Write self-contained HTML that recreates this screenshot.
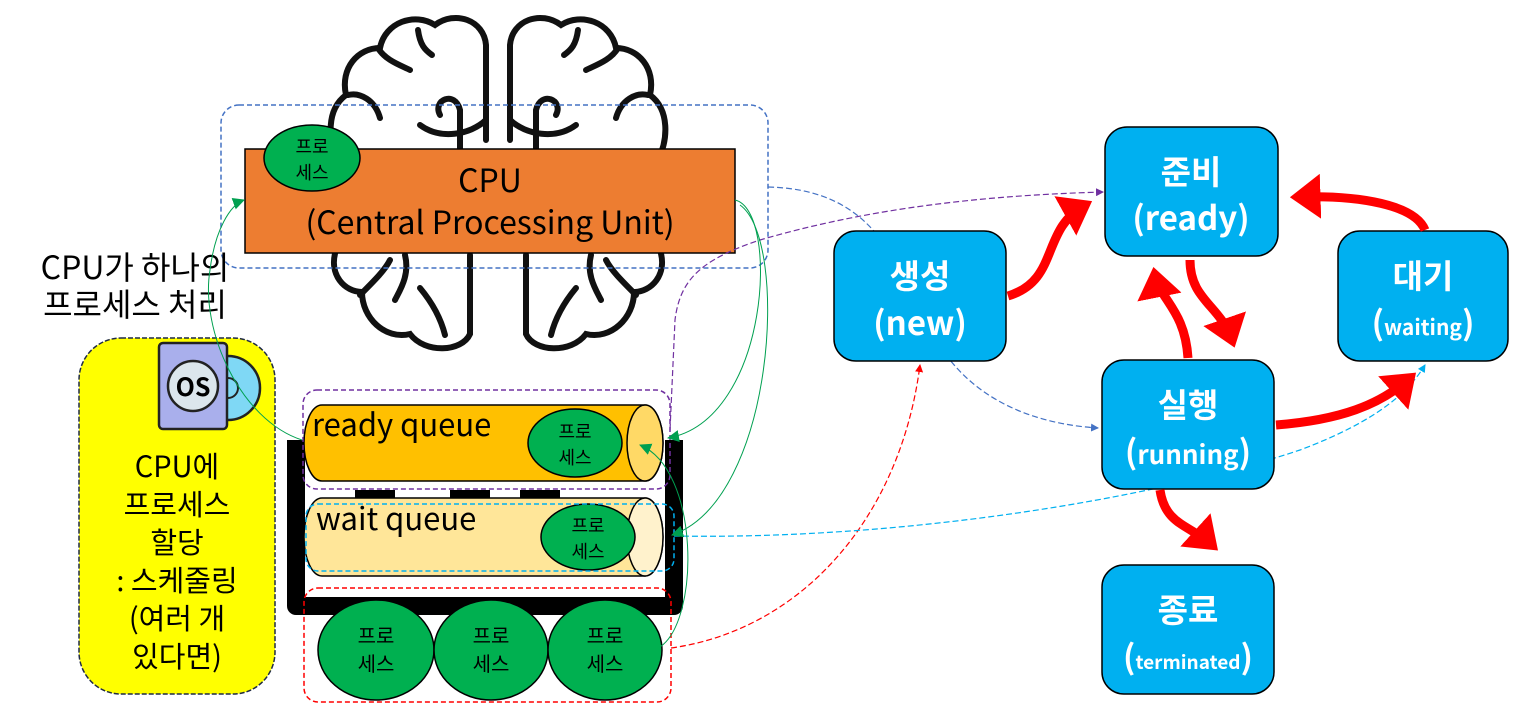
<!DOCTYPE html>
<html><head><meta charset="utf-8"><style>
body{margin:0;background:#fff;}
svg{display:block;}
text{font-family:"Noto Sans CJK KR","Liberation Sans",sans-serif;}
</style></head><body>
<svg width="1515" height="724" viewBox="0 0 1515 724" xmlns="http://www.w3.org/2000/svg">
<defs>
<marker id="ab" markerWidth="8" markerHeight="8" refX="7" refY="4" orient="auto" markerUnits="userSpaceOnUse"><path d="M0,0 L8,4 L0,8z" fill="#4472C4"/></marker>
<marker id="ap" markerWidth="8" markerHeight="8" refX="7" refY="4" orient="auto" markerUnits="userSpaceOnUse"><path d="M0,0 L8,4 L0,8z" fill="#7030A0"/></marker>
<marker id="ar" markerWidth="8" markerHeight="8" refX="7" refY="4" orient="auto" markerUnits="userSpaceOnUse"><path d="M0,0 L8,4 L0,8z" fill="#FF0000"/></marker>
<marker id="ac" markerWidth="8" markerHeight="8" refX="7" refY="4" orient="auto" markerUnits="userSpaceOnUse"><path d="M0,0 L8,4 L0,8z" fill="#00B0F0"/></marker>
<marker id="ag" markerWidth="12" markerHeight="12" refX="11" refY="6" orient="auto" markerUnits="userSpaceOnUse"><path d="M0,0 L12,6 L0,12z" fill="#00A050"/></marker>
<marker id="aR" markerWidth="5" markerHeight="5" refX="2.5" refY="2.5" orient="auto"><path d="M0,0 L3.4,2.5 L0,5z" fill="#FF0000"/></marker>
<g id="hemi" fill="none" stroke="#111" stroke-width="6" stroke-linecap="round">
<path d="M486,140 L486,45 C484,20 455,10 435,25 C415,12 385,22 380,48 C358,48 340,68 346,95 C326,110 328,140 338,160 L336,250 C328,275 345,292 362,292 C362,318 385,340 410,334 C425,354 462,352 470,334 L470,255"/>
<path d="M418,30 C420,45 425,50 432,55"/>
<path d="M378,48 C385,60 400,65 410,70"/>
<path d="M348,95 C360,92 375,100 380,118"/>
<path d="M440,115 C432,100 455,90 460,110 L460,150"/>
<path d="M420,125 C440,140 470,135 486,120"/>
<path d="M360,295 C375,280 385,270 390,260"/>
<path d="M420,288 C430,300 440,315 445,335"/>
<path d="M405,255 C410,275 400,290 395,300"/>
</g>
</defs>

<use href="#hemi"/>
<use href="#hemi" transform="translate(996,0) scale(-1,1)"/>

<rect x="221" y="105" width="547" height="163" rx="18" fill="none" stroke="#4472C4" stroke-width="1.5" stroke-dasharray="5,3"/>
<rect x="245" y="149" width="490" height="104" fill="#ED7D31" stroke="#000" stroke-width="1.5"/>
<text x="490" y="192" font-size="32" text-anchor="middle">CPU</text>
<text x="490" y="234" font-size="32" text-anchor="middle">(Central Processing Unit)</text>
<ellipse cx="312" cy="158" rx="48" ry="33" fill="#00B050" stroke="#000" stroke-width="1.5"/>
<text x="312" y="153" font-size="18" text-anchor="middle">프로</text>
<text x="312" y="179" font-size="18" text-anchor="middle">세스</text>

<text x="135" y="279" font-size="32" text-anchor="middle">CPU가 하나의</text>
<text x="135" y="316" font-size="32" text-anchor="middle">프로세스 처리</text>

<rect x="79" y="338" width="196" height="356" rx="42" fill="#FFFF00" stroke="#1F2A44" stroke-width="1.5" stroke-dasharray="5,2"/>
<circle cx="228" cy="388" r="32" fill="#7FD8F5" stroke="#222" stroke-width="2.5"/>
<circle cx="228" cy="388" r="10" fill="none" stroke="#222" stroke-width="2"/>
<rect x="159" y="343" width="68" height="86" rx="4" fill="#A9AFEC" stroke="#222" stroke-width="2.5"/>
<circle cx="193" cy="386" r="25" fill="#DCE6EC" stroke="#222" stroke-width="2.5"/>
<text x="193" y="396" font-size="25" font-weight="bold" text-anchor="middle">OS</text>
<g font-size="29" text-anchor="middle">
<text x="177" y="477">CPU에</text>
<text x="177" y="515">프로세스</text>
<text x="177" y="553">할당</text>
<text x="177" y="591">: 스케줄링</text>
<text x="177" y="629">(여러 개</text>
<text x="177" y="667">있다면)</text>
</g>

<path d="M296,440 L296,606 L674,606 L674,440" fill="none" stroke="#000" stroke-width="18" stroke-linejoin="round"/>
<rect x="355" y="490" width="40" height="12" fill="#000"/><rect x="450" y="490" width="40" height="12" fill="#000"/><rect x="520" y="490" width="40" height="12" fill="#000"/>

<path d="M322,405 L645,405 A18,38 0 0 1 645,481 L322,481 A18,38 0 0 1 322,405z" fill="#FFC000" stroke="#000" stroke-width="1.5"/>
<ellipse cx="645" cy="443" rx="18" ry="38" fill="#FFD966" stroke="#000" stroke-width="1.5"/>
<text x="312" y="436" font-size="31">ready queue</text>
<ellipse cx="575" cy="443" rx="47" ry="34" fill="#00B050" stroke="#000" stroke-width="1.5"/>
<text x="575" y="438" font-size="18" text-anchor="middle">프로</text>
<text x="575" y="464" font-size="18" text-anchor="middle">세스</text>
<rect x="303" y="390" width="367" height="99" rx="14" fill="none" stroke="#7030A0" stroke-width="1.5" stroke-dasharray="5,3"/>

<path d="M322,498 L645,498 A18,39 0 0 1 645,576 L322,576 A18,39 0 0 1 322,498z" fill="#FFE699" stroke="#000" stroke-width="1.5"/>
<ellipse cx="645" cy="537" rx="18" ry="39" fill="#FFF2CC" stroke="#000" stroke-width="1.5"/>
<text x="316" y="530" font-size="31">wait queue</text>
<ellipse cx="588" cy="537" rx="47" ry="33" fill="#00B050" stroke="#000" stroke-width="1.5"/>
<text x="588" y="532" font-size="18" text-anchor="middle">프로</text>
<text x="588" y="558" font-size="18" text-anchor="middle">세스</text>
<rect x="306" y="504" width="368" height="67" rx="12" fill="none" stroke="#00B0F0" stroke-width="1.5" stroke-dasharray="5,3"/>

<rect x="304" y="588" width="367" height="114" rx="14" fill="none" stroke="#FF0000" stroke-width="1.5" stroke-dasharray="5,3"/>
<g fill="#00B050" stroke="#000" stroke-width="1.5">
<ellipse cx="376" cy="650" rx="58" ry="50"/><ellipse cx="491" cy="650" rx="57" ry="50"/><ellipse cx="605" cy="650" rx="57" ry="50"/>
</g>
<g font-size="20" text-anchor="middle">
<text x="376" y="643">프로</text><text x="376" y="671">세스</text>
<text x="491" y="643">프로</text><text x="491" y="671">세스</text>
<text x="605" y="643">프로</text><text x="605" y="671">세스</text>
</g>

<path d="M768,187 C900,190 900,300 950,360 C990,410 1050,425 1098,428" fill="none" stroke="#4472C4" stroke-width="1.2" stroke-dasharray="6,3" marker-end="url(#ab)"/>
<path d="M670,430 L675,320 C680,280 700,260 760,240 C880,205 1000,195 1103,192" fill="none" stroke="#7030A0" stroke-width="1.2" stroke-dasharray="6,3" marker-end="url(#ap)"/>
<path d="M671,648 C800,630 900,520 920,365" fill="none" stroke="#FF0000" stroke-width="1.2" stroke-dasharray="6,3" marker-end="url(#ar)"/>
<path d="M674,536 C900,540 1150,500 1300,450 C1380,420 1410,390 1425,365" fill="none" stroke="#00B0F0" stroke-width="1.2" stroke-dasharray="6,3" marker-end="url(#ac)"/>
<path d="M735,200 C780,210 770,420 668,438" fill="none" stroke="#00A050" stroke-width="1" marker-end="url(#ag)"/>
<path d="M740,205 C790,240 775,500 672,535" fill="none" stroke="#00A050" stroke-width="1" marker-end="url(#ag)"/>
<path d="M660,647 C700,620 700,470 640,445" fill="none" stroke="#00A050" stroke-width="1" marker-end="url(#ag)"/>
<path d="M302,440 C240,420 200,330 210,270 C215,230 230,205 244,200" fill="none" stroke="#00A050" stroke-width="1" marker-end="url(#ag)"/>

<g fill="#00B0F0" stroke="#000" stroke-width="1.5">
<rect x="1105" y="127" width="173" height="129" rx="22"/>
<rect x="834" y="231" width="172" height="130" rx="22"/>
<rect x="1338" y="231" width="170" height="130" rx="22"/>
<rect x="1102" y="360" width="172" height="129" rx="22"/>
<rect x="1102" y="565" width="172" height="129" rx="22"/>
</g>
<g fill="#fff" font-weight="bold" text-anchor="middle" font-size="33">
<text x="1191" y="184">준비</text><text x="1191" y="230">(ready)</text>
<text x="920" y="288">생성</text><text x="920" y="335">(new)</text>
<text x="1423" y="288">대기</text><text x="1423" y="335">(<tspan font-size="21">waiting</tspan>)</text>
<text x="1188" y="417">실행</text><text x="1188" y="464">(<tspan font-size="26">running</tspan>)</text>
<text x="1188" y="622">종료</text><text x="1188" y="669">(<tspan font-size="19">terminated</tspan>)</text>
</g>

<g fill="none" stroke="#FF0000" stroke-width="9" marker-end="url(#aR)">
<path d="M1008,296 C1060,280 1040,230 1085,205"/>
<path d="M1190,260 C1190,300 1220,305 1232,340"/>
<path d="M1188,358 C1185,310 1160,300 1155,275"/>
<path d="M1276,425 C1340,420 1380,405 1410,378"/>
<path d="M1425,230 C1415,205 1360,195 1298,197"/>
<path d="M1160,490 C1165,525 1190,525 1212,545"/>
</g>
</svg>
</body></html>
